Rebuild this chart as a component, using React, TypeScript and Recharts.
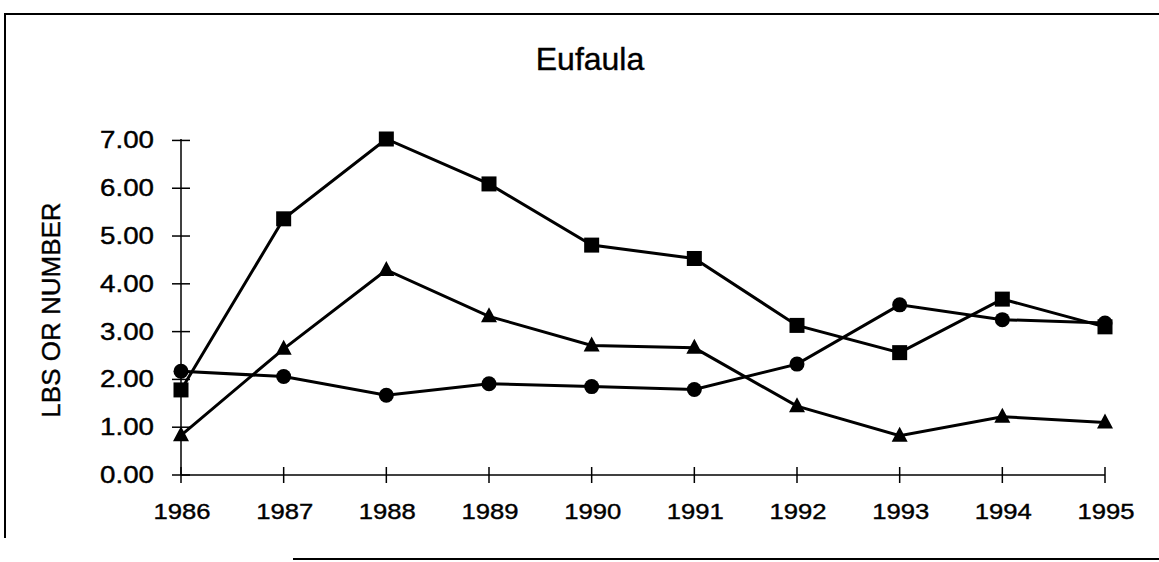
import React from "react";
import { LineChart, Line, XAxis, YAxis } from "recharts";

// Eufaula — values
const years = ["1986", "1987", "1988", "1989", "1990", "1991", "1992", "1993", "1994", "1995"];
const squareValues = [1.78, 5.36, 7.03, 6.09, 4.81, 4.53, 3.13, 2.56, 3.68, 3.1];
const triangleValues = [0.83, 2.64, 4.29, 3.32, 2.71, 2.66, 1.44, 0.82, 1.22, 1.1];
const circleValues = [2.17, 2.06, 1.67, 1.91, 1.85, 1.79, 2.32, 3.56, 3.25, 3.18];
const yTicks = [0, 1, 2, 3, 4, 5, 6, 7];

const data = years.map((year, i) => ({
  year,
  squares: squareValues[i],
  triangles: triangleValues[i],
  circles: circleValues[i],
}));

const font = "Arial, 'Liberation Sans', sans-serif";
const ink = "#000";

// markers
const SquareDot = (props: any) => {
  const { cx, cy, index } = props;
  if (cx == null || cy == null) return null;
  return <rect key={`sq-${index}`} x={cx - 7.5} y={cy - 7.5} width={15} height={15} fill={ink} />;
};

const CircleDot = (props: any) => {
  const { cx, cy, index } = props;
  if (cx == null || cy == null) return null;
  return <circle key={`ci-${index}`} cx={cx} cy={cy} r={7.5} fill={ink} />;
};

const TriangleDot = (props: any) => {
  const { cx, cy, index } = props;
  if (cx == null || cy == null) return null;
  return (
    <polygon
      key={`tr-${index}`}
      points={`${cx},${cy - 9} ${cx - 8},${cy + 6} ${cx + 8},${cy + 6}`}
      fill={ink}
    />
  );
};

// ticks that cross the axis line, like the original; the scan's digits are wide,
// so the labels get a little horizontal stretch
const Y_TICK_SIZE = 8;
const Y_TICK_MARGIN = 17;
const YTick = (props: any) => {
  const { x, y, payload } = props;
  const axisX = x + Y_TICK_SIZE + Y_TICK_MARGIN;
  return (
    <g>
      <line x1={axisX - 9} x2={axisX + 9} y1={y} y2={y} stroke={ink} strokeWidth={1.5} />
      <text
        transform={`translate(${x - 2},${y + 8}) scale(1.18,1)`}
        textAnchor="end"
        fontSize={23.5}
        fontFamily={font}
        fill={ink}
        stroke={ink}
        strokeWidth={0.4}
      >
        {Number(payload.value).toFixed(2)}
      </text>
    </g>
  );
};

const X_TICK_SIZE = 8;
const X_TICK_MARGIN = 17;
const XTick = (props: any) => {
  const { x, y, payload } = props;
  const axisY = y - X_TICK_SIZE - X_TICK_MARGIN;
  return (
    <g>
      <line x1={x} x2={x} y1={axisY - 8} y2={axisY + 8} stroke={ink} strokeWidth={1.5} />
      <text
        transform={`translate(${x + 1},${axisY + 44}) scale(1.14,1)`}
        textAnchor="middle"
        fontSize={22.5}
        fontFamily={font}
        fill={ink}
        stroke={ink}
        strokeWidth={0.4}
      >
        {payload.value}
      </text>
    </g>
  );
};

export default function App() {
  return (
    <div
      style={{
        position: "absolute",
        left: 0,
        top: 0,
        width: 1159,
        height: 562,
        background: "#fff",
        fontFamily: font,
        overflow: "hidden",
      }}
    >
      {/* frame */}
      <div style={{ position: "absolute", left: 4, top: 13, width: 1170, height: 2, background: ink }} />
      <div style={{ position: "absolute", left: 4, top: 13, width: 2, height: 525, background: ink }} />
      <div style={{ position: "absolute", left: 293, top: 558, width: 880, height: 2, background: ink }} />

      {/* title */}
      <div
        style={{
          position: "absolute",
          left: 440,
          top: 41,
          width: 300,
          textAlign: "center",
          fontSize: 32,
          lineHeight: "36px",
          color: ink,
          WebkitTextStroke: "0.4px #000",
        }}
      >
        Eufaula
      </div>

      {/* y axis label */}
      <div
        style={{
          position: "absolute",
          left: 51,
          top: 310,
          transform: "translate(-50%, -50%) rotate(-90deg)",
          whiteSpace: "nowrap",
          fontSize: 26,
          color: ink,
          WebkitTextStroke: "0.4px #000",
        }}
      >
        LBS OR NUMBER
      </div>

      <div style={{ position: "absolute", left: 0, top: 0 }}>
        <LineChart
          width={1159}
          height={562}
          data={data}
          margin={{ top: 139, right: 54, bottom: 27, left: 81 }}
        >
          <XAxis
            dataKey="year"
            height={60}
            interval={0}
            tickSize={X_TICK_SIZE}
            tickMargin={X_TICK_MARGIN}
            tickLine={false}
            axisLine={{ stroke: ink, strokeWidth: 1.5 }}
            tick={<XTick />}
          />
          <YAxis
            width={100}
            domain={[0, 7]}
            ticks={yTicks}
            interval={0}
            tickSize={Y_TICK_SIZE}
            tickMargin={Y_TICK_MARGIN}
            tickLine={false}
            axisLine={{ stroke: ink, strokeWidth: 1.5 }}
            tick={<YTick />}
          />
          <Line
            dataKey="circles"
            stroke={ink}
            strokeWidth={3}
            dot={<CircleDot />}
            activeDot={false}
            isAnimationActive={false}
          />
          <Line
            dataKey="triangles"
            stroke={ink}
            strokeWidth={3}
            dot={<TriangleDot />}
            activeDot={false}
            isAnimationActive={false}
          />
          <Line
            dataKey="squares"
            stroke={ink}
            strokeWidth={3}
            dot={<SquareDot />}
            activeDot={false}
            isAnimationActive={false}
          />
        </LineChart>
      </div>
    </div>
  );
}
